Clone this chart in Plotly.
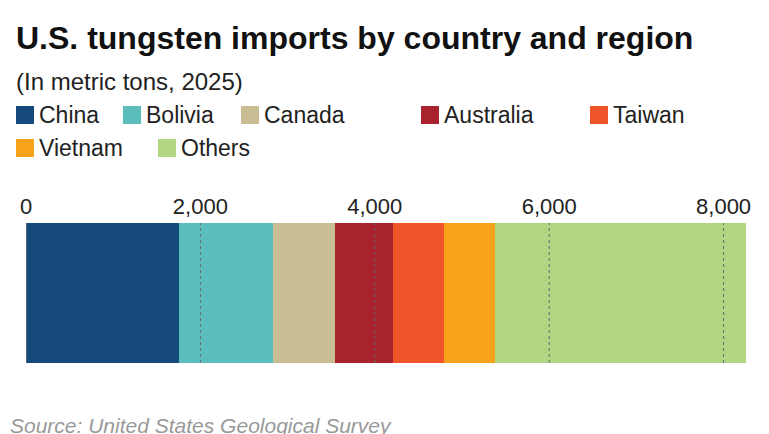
import plotly.graph_objects as go

countries = ["China", "Bolivia", "Canada", "Australia", "Taiwan", "Vietnam", "Others"]
values = [1755, 1078, 711, 665, 585, 584, 2879]
colors = ["#174a7c", "#5bbdbc", "#c9bd93", "#a8232d", "#ef5528", "#f7a21b", "#b1d583"]
tick_vals = [0, 2000, 4000, 6000, 8000]
tick_text = ["0", "2,000", "4,000", "6,000", "8,000"]

W, H = 769, 434
L, R, T, B = 18, 29, 215, 79
fig = go.Figure()
for c, v, col in zip(countries, values, colors):
    fig.add_trace(go.Bar(x=[v], y=["US"], orientation="h", marker=dict(color=col, line=dict(width=0)),
                         name=c, showlegend=False))

shapes, annots = [], []
for tv in tick_vals[1:]:
    shapes.append(dict(type="line", xref="x", yref="paper", x0=tv, x1=tv, y0=0, y1=1,
                       line=dict(color="#666", width=1, dash="dot"), layer="above"))
shapes.append(dict(type="line", xref="x", yref="paper", x0=0, x1=0, y0=0, y1=1,
                   line=dict(color="#888", width=1), layer="above"))

def px(x): return (x - L) / (W - L - R)
def py(y): return (H - B - y) / (H - T - B)
leg_pos = [(8, 107), (115, 107), (233, 107), (413, 107), (582, 107), (8, 140), (150, 140)]
for (x, y), c, col in zip(leg_pos, countries, colors):
    shapes.append(dict(type="rect", xref="paper", yref="paper", x0=px(x), x1=px(x + 18),
                       y0=py(y + 9), y1=py(y - 9), fillcolor=col, line=dict(width=0)))
    annots.append(dict(xref="paper", yref="paper", x=px(x + 21), y=py(y), text=c, showarrow=False,
                       xanchor="left", yanchor="middle", font=dict(size=23, color="#222")))

annots += [
    dict(xref="paper", yref="paper", x=px(6), y=py(30), text="<b>U.S. tungsten imports by country and region</b>",
         showarrow=False, xanchor="left", yanchor="middle", font=dict(size=32, color="#111")),
    dict(xref="paper", yref="paper", x=px(6), y=py(73), text="(In metric tons, 2025)",
         showarrow=False, xanchor="left", yanchor="middle", font=dict(size=24, color="#222")),
    dict(xref="paper", yref="paper", x=px(0), y=py(417), text="<i>Source: United States Geological Survey</i>",
         showarrow=False, xanchor="left", yanchor="middle", font=dict(size=21, color="#999")),
]

fig.update_layout(
    width=W, height=H, margin=dict(l=L, r=R, t=T, b=B, autoexpand=False),
    barmode="stack", bargap=0, plot_bgcolor="white", paper_bgcolor="white",
    font=dict(family="Liberation Sans, Arial, sans-serif"),
    xaxis=dict(range=[0, 8280], side="top", tickvals=tick_vals, ticktext=tick_text, showgrid=False,
               zeroline=False, tickfont=dict(size=22, color="#222"), ticks="", ticklabelstandoff=4),
    yaxis=dict(visible=False),
    shapes=shapes, annotations=annots,
)
fig.write_html("out.html")
